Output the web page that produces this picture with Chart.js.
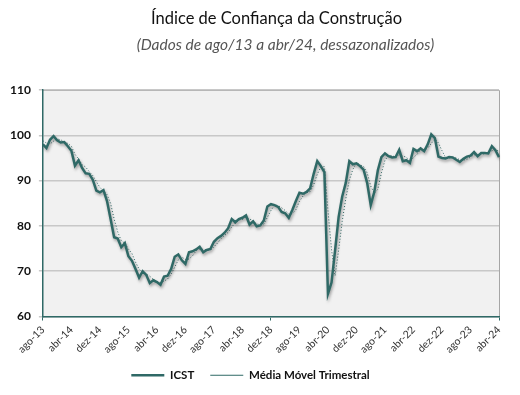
<!DOCTYPE html>
<html lang="pt">
<head>
  <meta charset="UTF-8">
  <title>Índice de Confiança da Construção</title>
  <style>
    body {
      margin: 0;
      background: #ffffff;
      font-family: Lato, "Open Sans", sans-serif;
    }
    #wrap {
      position: relative;
      width: 520px;
      height: 395px;
    }
    #titulo {
      position: absolute;
      left: 0;
      width: 553px;
      top: 8px;
      text-align: center;
      font-size: 16.5px;
      color: #111;
    }
    #subtitulo {
      position: absolute;
      left: 0;
      width: 571px;
      top: 35px;
      text-align: center;
      font-size: 15.5px;
      font-style: italic;
      color: #555;
    }
    canvas {
      position: absolute;
      left: 0;
      top: 0;
    }
  </style>
  <script src="https://cdn.jsdelivr.net/npm/chart.js"></script>
</head>
<body>
  <div id="wrap">
    <canvas id="icstChart" width="520" height="395"></canvas>
    <div id="titulo">Índice de Confiança da Construção</div>
    <div id="subtitulo">(Dados de ago/13 a abr/24, dessazonalizados)</div>
  </div>

  <script>
    // meses de ago/13 a abr/24
    const mesesNomes = ['jan', 'fev', 'mar', 'abr', 'mai', 'jun', 'jul', 'ago', 'set', 'out', 'nov', 'dez'];
    const anoInicio = 2013;
    const mesInicio = 7; // agosto

    const icst = [
      98.0, 97.2, 99.0, 99.8, 98.9, 98.4, 98.5, 97.6, 96.6, 93.3,
      94.5, 92.8, 91.6, 91.5, 90.2, 87.8, 87.4, 87.9, 85.5, 81.5,
      77.5, 77.2, 75.3, 76.2, 73.3, 72.3, 70.5, 68.6, 70.0, 69.2,
      67.4, 68.0, 67.6, 67.0, 68.8, 69.0, 70.5, 73.2, 73.7, 72.4,
      71.6, 74.2, 74.4, 74.8, 75.4, 74.2, 74.7, 74.9, 76.5, 77.3,
      77.8, 78.5, 79.5, 81.5, 80.8, 81.5, 81.8, 82.3, 80.3, 81.0,
      79.9, 80.1, 81.2, 84.3, 84.8, 84.6, 84.2, 83.1, 82.8, 81.8,
      83.5, 85.5, 87.3, 87.1, 87.5, 88.3, 91.5, 94.3, 93.2, 91.9,
      65.0, 67.5, 74.6, 82.0, 86.5, 89.5, 94.3, 93.6, 93.8, 93.2,
      92.4, 89.5, 84.6, 87.5, 92.3, 95.2, 96.0, 95.4, 95.1, 95.2,
      96.8, 94.3, 94.5, 93.9, 97.0, 96.5, 97.1, 96.5, 98.0, 100.2,
      99.4, 95.3, 95.0, 94.9, 95.2, 95.1, 94.6, 94.1, 94.8, 95.3,
      95.5, 96.3, 95.4, 96.1, 96.1, 96.0, 97.6, 96.7, 95.2
    ];

    const mediaMovel = [
      98.8, 98.3, 98.1, 98.7, 99.2, 99.0, 98.6, 98.2, 97.6, 95.8,
      94.8, 93.5, 93.0, 92.0, 91.1, 89.8, 88.5, 87.7, 86.9, 85.0,
      81.5, 78.7, 76.7, 76.2, 74.9, 73.9, 72.0, 70.5, 69.7, 69.3,
      68.9, 68.2, 67.7, 67.5, 67.8, 68.3, 69.4, 70.9, 72.5, 73.1,
      72.6, 72.7, 73.4, 74.5, 74.9, 74.8, 74.8, 74.6, 75.4, 76.2,
      77.2, 77.9, 78.6, 79.8, 80.6, 81.3, 81.4, 81.9, 81.5, 81.2,
      80.4, 80.3, 80.4, 81.9, 83.4, 84.6, 84.5, 84.0, 83.4, 82.6,
      82.7, 83.6, 85.4, 86.6, 87.3, 87.6, 89.1, 91.4, 93.0, 93.1,
      83.4, 74.8, 69.0, 74.7, 81.0, 86.0, 90.1, 92.5, 93.9, 93.5,
      93.1, 91.7, 88.8, 87.2, 88.1, 91.7, 94.5, 95.5, 95.5, 95.2,
      95.7, 95.4, 95.2, 94.2, 95.1, 95.8, 96.9, 96.7, 97.2, 98.2,
      99.2, 98.3, 96.6, 95.1, 95.0, 95.1, 95.0, 94.6, 94.5, 94.7,
      95.2, 95.7, 95.7, 95.9, 95.9, 96.1, 96.6, 96.8, 96.5
    ];

    const eixoY = [60, 70, 80, 90, 100, 110];
    const passoRotulo = 8;

    const rotulos = icst.map((_, i) => {
      const m = (mesInicio + i) % 12;
      const a = anoInicio + Math.floor((mesInicio + i) / 12);
      return mesesNomes[m] + '-' + String(a).slice(2);
    });

    const corLinha = '#2f6966';

    // fundo cinza da área do gráfico e borda
    const fundoPlot = {
      id: 'fundoPlot',
      beforeDraw(chart) {
        const { ctx, chartArea: a } = chart;
        ctx.save();
        ctx.fillStyle = '#f1f1f1';
        ctx.fillRect(a.left, a.top, a.right - a.left, a.bottom - a.top);
        ctx.strokeStyle = '#a6a6a6';
        ctx.lineWidth = 1;
        ctx.beginPath();
        ctx.moveTo(a.left, a.top + 0.5);
        ctx.lineTo(a.right + 0.5, a.top + 0.5);
        ctx.lineTo(a.right + 0.5, a.bottom);
        ctx.stroke();
        ctx.restore();
      }
    };

    // sombra leve na linha principal
    const sombra = {
      id: 'sombra',
      beforeDatasetDraw(chart, args) {
        if (args.index !== 0) return;
        const ctx = chart.ctx;
        ctx.save();
        ctx.shadowColor = 'rgba(0, 0, 0, 0.35)';
        ctx.shadowBlur = 3;
        ctx.shadowOffsetX = 1;
        ctx.shadowOffsetY = 2;
      },
      afterDatasetDraw(chart, args) {
        if (args.index !== 0) return;
        chart.ctx.restore();
      }
    };

    new Chart(document.getElementById('icstChart'), {
      type: 'line',
      data: {
        labels: rotulos,
        datasets: [
          {
            label: 'ICST',
            data: icst,
            borderColor: corLinha,
            backgroundColor: corLinha,
            borderWidth: 2.5,
            pointRadius: 0,
            tension: 0
          },
          {
            label: 'Média Móvel Trimestral',
            data: mediaMovel,
            borderColor: corLinha,
            backgroundColor: corLinha,
            borderWidth: 1,
            borderDash: [1, 2],
            pointRadius: 0,
            tension: 0
          }
        ]
      },
      options: {
        responsive: false,
        animation: false,
        layout: {
          padding: { top: 90, right: 21, left: 2, bottom: 4 }
        },
        plugins: {
          legend: {
            position: 'bottom',
            labels: {
              usePointStyle: true,
              pointStyle: 'line',
              pointStyleWidth: 33,
              padding: 16,
              color: '#111',
              font: { family: 'Lato', size: 11.5, weight: 'bold' }
            }
          },
          tooltip: { enabled: false }
        },
        scales: {
          x: {
            afterFit: (axis) => {
              axis.height -= 5;
            },
            ticks: {
              autoSkip: false,
              maxRotation: 45,
              minRotation: 45,
              color: '#333',
              font: { family: 'Lato', size: 10.5 },
              callback: (v, i) => (i % passoRotulo === 0 ? rotulos[i] : null)
            },
            grid: {
              drawOnChartArea: false,
              drawTicks: true,
              tickLength: 4,
              color: (c) => (c.index % passoRotulo === 0 ? corLinha : 'transparent')
            },
            border: { color: corLinha, width: 1.5 }
          },
          y: {
            min: 60,
            max: 110,
            afterBuildTicks: (axis) => {
              axis.ticks = eixoY.map(v => ({ value: v }));
            },
            ticks: {
              color: '#111',
              padding: 8,
              font: { family: 'Lato', size: 12, weight: 'bold' }
            },
            grid: {
              color: '#c8c8c8',
              lineWidth: 1.5,
              drawTicks: true,
              tickLength: 4
            },
            border: { color: corLinha, width: 1.5 }
          }
        }
      },
      plugins: [fundoPlot, sombra]
    });
  </script>
</body>
</html>
